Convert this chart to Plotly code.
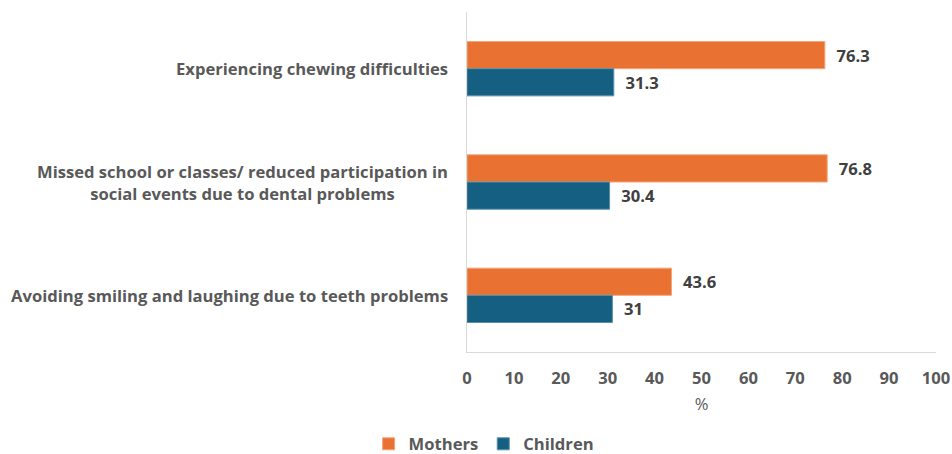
import plotly.graph_objects as go

categories = [
    "Experiencing chewing difficulties",
    "Missed school or classes/ reduced participation in<br>social events due to dental problems",
    "Avoiding smiling and laughing due to teeth problems",
]
mothers = [76.3, 76.8, 43.6]
children = [31.3, 30.4, 31.0]
tick_vals = [0, 10, 20, 30, 40, 50, 60, 70, 80, 90, 100]

ORANGE = "#E97132"
BLUE = "#156082"
FONT = "Open Sans"
FS = 16.6
PAD = "\u00a0\u00a0"

fig = go.Figure()
fig.add_trace(go.Bar(
    y=categories, x=mothers, name="Mothers", orientation="h",
    marker=dict(color=ORANGE, line=dict(color="#F4A57A", width=1)),
    text=[f"{PAD}{v:g}" for v in mothers], textposition="outside",
    textfont=dict(family=FONT, size=FS, color="#404040", weight="bold"),
    cliponaxis=False,
))
fig.add_trace(go.Bar(
    y=categories, x=children, name="Children", orientation="h",
    marker=dict(color=BLUE, line=dict(color="#5B8FA8", width=1)),
    text=[f"{PAD}{v:g}" for v in children], textposition="outside",
    textfont=dict(family=FONT, size=FS, color="#404040", weight="bold"),
    cliponaxis=False,
))

for c in categories:
    fig.add_annotation(
        x=-0.036, xref="paper", y=c, yref="y", text=c, showarrow=False,
        xanchor="right", align="center",
        font=dict(family=FONT, size=FS, color="#595959", weight="bold"),
    )

fig.update_layout(
    width=952, height=454,
    margin=dict(l=467, r=16, t=12, b=102, autoexpand=False),
    paper_bgcolor="white", plot_bgcolor="white",
    barmode="group", bargap=0.52, bargroupgap=0,
    font=dict(family=FONT, color="#595959"),
    showlegend=True,
    legend=dict(
        orientation="h", xref="container", yref="container",
        x=0.508, xanchor="center", y=0.022, yanchor="middle",
        font=dict(family=FONT, size=FS, color="#595959", weight="bold"),
        traceorder="normal", itemwidth=30,
    ),
    xaxis=dict(
        range=[0, 100], tickvals=tick_vals, showgrid=False, zeroline=False,
        showline=True, linecolor="#D9D9D9", linewidth=1, mirror=False,
        tickfont=dict(family=FONT, size=FS, color="#595959", weight="bold"),
        ticklabelstandoff=11, automargin=False,
        title=dict(text="%", font=dict(family=FONT, size=FS, color="#595959"), standoff=10),
    ),
    yaxis=dict(
        autorange="reversed", showticklabels=False, showgrid=False,
        showline=True, linecolor="#D9D9D9", linewidth=1, zeroline=False,
        automargin=False,
    ),
)

fig.write_html("out.html")
